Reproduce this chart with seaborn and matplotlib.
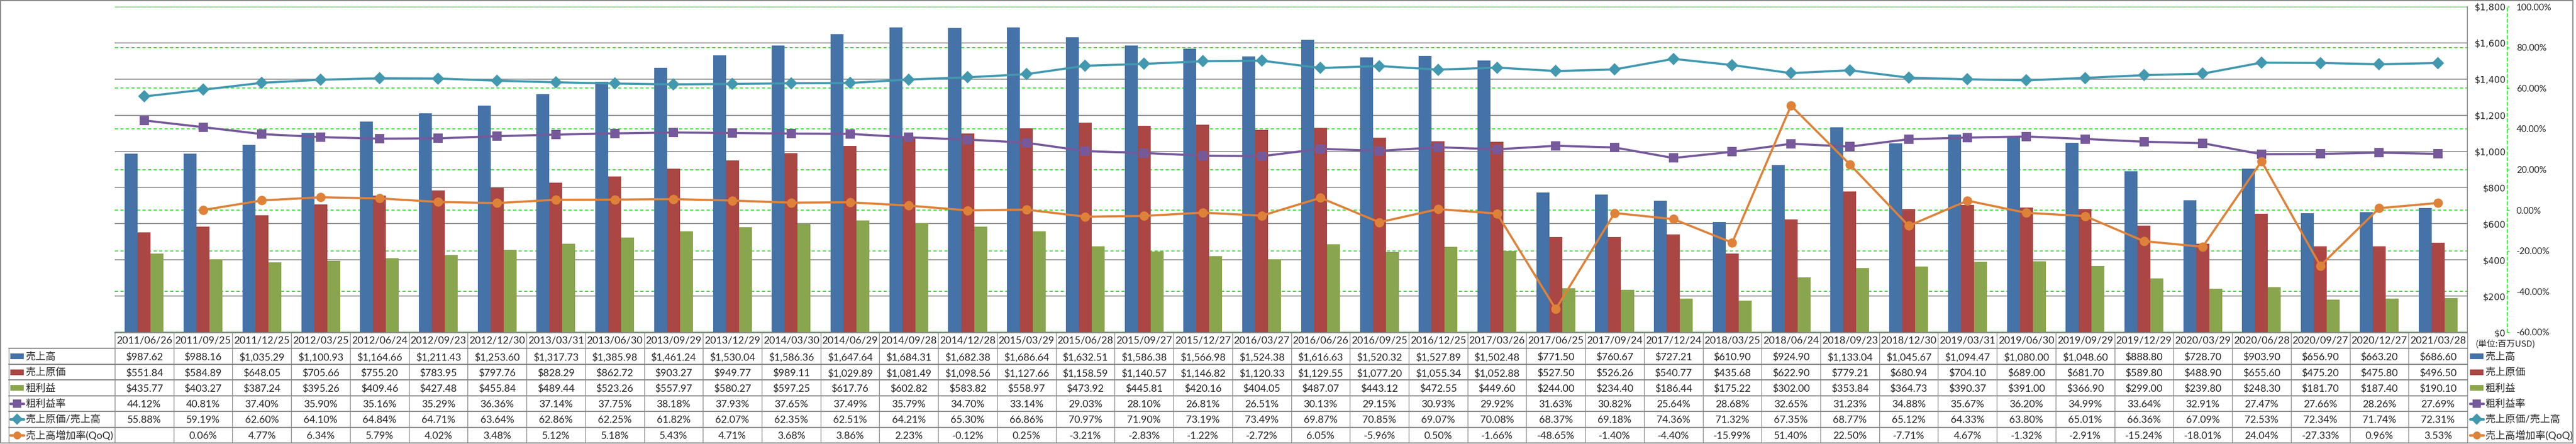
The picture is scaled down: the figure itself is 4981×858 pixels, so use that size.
"""Apple-style quarterly chart: sales / cost / gross profit bars, ratio lines, data table."""

import numpy as np
import pandas as pd
import matplotlib
matplotlib.use("Agg")
import matplotlib.pyplot as plt
import matplotlib.transforms as mtransforms
import seaborn as sns
from matplotlib.patches import Rectangle
from matplotlib.lines import Line2D

# ---- data ---------------------------------------------------------------
dates = ["2011/06/26", "2011/09/25", "2011/12/25", "2012/03/25", "2012/06/24",
         "2012/09/23", "2012/12/30", "2013/03/31", "2013/06/30", "2013/09/29",
         "2013/12/29", "2014/03/30", "2014/06/29", "2014/09/28", "2014/12/28",
         "2015/03/29", "2015/06/28", "2015/09/27", "2015/12/27", "2016/03/27",
         "2016/06/26", "2016/09/25", "2016/12/25", "2017/03/26", "2017/06/25",
         "2017/09/24", "2017/12/24", "2018/03/25", "2018/06/24", "2018/09/23",
         "2018/12/30", "2019/03/31", "2019/06/30", "2019/09/29", "2019/12/29",
         "2020/03/29", "2020/06/28", "2020/09/27", "2020/12/27", "2021/03/28"]

sales = [987.62, 988.16, 1035.29, 1100.93, 1164.66, 1211.43, 1253.60, 1317.73,
         1385.98, 1461.24, 1530.04, 1586.36, 1647.64, 1684.31, 1682.38, 1686.64,
         1632.51, 1586.38, 1566.98, 1524.38, 1616.63, 1520.32, 1527.89, 1502.48,
         771.50, 760.67, 727.21, 610.90, 924.90, 1133.04, 1045.67, 1094.47,
         1080.00, 1048.60, 888.80, 728.70, 903.90, 656.90, 663.20, 686.60]

cost = [551.84, 584.89, 648.05, 705.66, 755.20, 783.95, 797.76, 828.29,
        862.72, 903.27, 949.77, 989.11, 1029.89, 1081.49, 1098.56, 1127.66,
        1158.59, 1140.57, 1146.82, 1120.33, 1129.55, 1077.20, 1055.34, 1052.88,
        527.50, 526.26, 540.77, 435.68, 622.90, 779.21, 680.94, 704.10,
        689.00, 681.70, 589.80, 488.90, 655.60, 475.20, 475.80, 496.50]

gross = [435.77, 403.27, 387.24, 395.26, 409.46, 427.48, 455.84, 489.44,
         523.26, 557.97, 580.27, 597.25, 617.76, 602.82, 583.82, 558.97,
         473.92, 445.81, 420.16, 404.05, 487.07, 443.12, 472.55, 449.60,
         244.00, 234.40, 186.44, 175.22, 302.00, 353.84, 364.73, 390.37,
         391.00, 366.90, 299.00, 239.80, 248.30, 181.70, 187.40, 190.10]

margin = [44.12, 40.81, 37.40, 35.90, 35.16, 35.29, 36.36, 37.14, 37.75, 38.18,
          37.93, 37.65, 37.49, 35.79, 34.70, 33.14, 29.03, 28.10, 26.81, 26.51,
          30.13, 29.15, 30.93, 29.92, 31.63, 30.82, 25.64, 28.68, 32.65, 31.23,
          34.88, 35.67, 36.20, 34.99, 33.64, 32.91, 27.47, 27.66, 28.26, 27.69]

cost_ratio = [55.88, 59.19, 62.60, 64.10, 64.84, 64.71, 63.64, 62.86, 62.25, 61.82,
              62.07, 62.35, 62.51, 64.21, 65.30, 66.86, 70.97, 71.90, 73.19, 73.49,
              69.87, 70.85, 69.07, 70.08, 68.37, 69.18, 74.36, 71.32, 67.35, 68.77,
              65.12, 64.33, 63.80, 65.01, 66.36, 67.09, 72.53, 72.34, 71.74, 72.31]

qoq = [np.nan, 0.06, 4.77, 6.34, 5.79, 4.02, 3.48, 5.12, 5.18, 5.43,
       4.71, 3.68, 3.86, 2.23, -0.12, 0.25, -3.21, -2.83, -1.22, -2.72,
       6.05, -5.96, 0.50, -1.66, -48.65, -1.40, -4.40, -15.99, 51.40, 22.50,
       -7.71, 4.67, -1.32, -2.91, -15.24, -18.01, 24.04, -27.33, 0.96, 3.53]

bar_names = ["売上高", "売上原価", "粗利益"]
line_names = ["粗利益率", "売上原価/売上高", "売上高増加率(QoQ)"]
bar_colors = ["#4572A7", "#AA4643", "#89A54E"]
line_colors = ["#76599A", "#4198AF", "#DE823A"]
line_markers = ["s", "D", "o"]

money_ticks = list(range(0, 1801, 200))
pct_ticks = list(range(-60, 101, 20))

# ---- layout (pixels of the 4981x858 picture) ----------------------------
W, H, DPI = 4981, 858, 100
PLOT_L, PLOT_R, PLOT_T, PLOT_B = 222, 4771, 13, 642
TAB_B = 856
LABEL_L = 17
GRAY = "#868686"
GREEN = "#00E000"
FS = 14


def rect_px(x0, y0, x1, y1):
    return [x0 / W, 1 - y1 / H, (x1 - x0) / W, (y1 - y0) / H]


def pt(px_):
    return px_ * 72 / DPI


sns.set_theme(style="white")
plt.rcParams["font.family"] = ["Lato", "Noto Sans CJK JP", "DejaVu Sans"]

fig = plt.figure(figsize=(W / DPI, H / DPI), dpi=DPI)
fig.patch.set_facecolor("white")

ax = fig.add_axes(rect_px(PLOT_L, PLOT_T, PLOT_R, PLOT_B))
ax2 = ax.twinx()

# ---- bars -----------------------------------------------------------------
df = pd.DataFrame({"日付": dates, "売上高": sales, "売上原価": cost, "粗利益": gross})
long = df.melt(id_vars="日付", var_name="項目", value_name="金額")
sns.barplot(data=long, x="日付", y="金額", hue="項目", hue_order=bar_names,
            palette=bar_colors, width=0.66, saturation=1, linewidth=0,
            errorbar=None, legend=False, ax=ax, zorder=3)

ax.set_xlim(-0.5, len(dates) - 0.5)
ax.set_ylim(0, 1800)
ax.set_xticks([])
ax.set_xlabel("")
ax.set_ylabel("")
for s in ["left", "top", "bottom"]:
    ax.spines[s].set_visible(False)
ax.spines["right"].set_color(GRAY)
ax.spines["right"].set_linewidth(1.2)
for v in money_ticks:
    ax.axhline(v, color=GRAY, lw=1.3, zorder=1)

# green dashed grid of the % axis, drawn behind the bars
ax2.set_ylim(-60, 100)
blend = mtransforms.blended_transform_factory(ax.transAxes, ax2.transData)
for v in pct_ticks:
    ax.add_line(Line2D([0, 1], [v, v], transform=blend, color=GREEN,
                       lw=1.1, ls=(0, (4, 3)), zorder=2))

# ---- lines on secondary axis -----------------------------------------------
pos = np.arange(len(dates))
for vals, color, mk in zip([margin, cost_ratio, qoq], line_colors, line_markers):
    ms = 12 if mk == "D" else 13
    sns.lineplot(x=pos, y=vals, ax=ax2, color=color, marker=mk, markersize=ms,
                 markeredgewidth=0, linewidth=3, zorder=5)

ax2.set_xlim(-0.5, len(dates) - 0.5)
ax2.set_ylim(-60, 100)
ax2.set_yticks(pct_ticks)
ax2.set_yticklabels([f"{v:.2f}%" for v in pct_ticks])
for lbl, v in zip(ax2.get_yticklabels(), pct_ticks):
    lbl.set_color("red" if v < 0 else "black")
    lbl.set_fontfamily("DejaVu Sans")
ax2.tick_params(axis="y", direction="out", length=pt(4), width=1, color=GREEN,
                pad=pt(14), labelsize=12.5)
ax2.set_ylabel("")
for s in ["left", "top", "bottom"]:
    ax2.spines[s].set_visible(False)
ax2.spines["right"].set_position(("outward", pt(4848 - PLOT_R)))
ax2.spines["right"].set_color(GREEN)
ax2.spines["right"].set_linestyle((0, (4, 3)))
ax2.spines["right"].set_linewidth(1.1)

# money labels also sit on the right, just left of the % axis line
ax.yaxis.tick_right()
ax.set_yticks(money_ticks)
ax.set_yticklabels([f"${v:,}" for v in money_ticks])
ax.tick_params(axis="y", left=False, right=False, labelleft=False,
               labelright=True, length=0, pad=pt(4845 - PLOT_R), labelsize=12.5)
for lbl in ax.get_yticklabels():
    lbl.set_horizontalalignment("right")
    lbl.set_fontfamily("DejaVu Sans")

# ---- data table -------------------------------------------------------------
tab = fig.add_axes(rect_px(PLOT_L, PLOT_B + 1, PLOT_R, TAB_B))
tab.set_xlim(-0.5, len(dates) - 0.5)
tab.set_ylim(7, 0)
tab.axis("off")
col_w = (PLOT_R - PLOT_L) / len(dates)
lab_x0 = -0.5 - (PLOT_L - LABEL_L) / col_w


def px_to_col(x):
    return -0.5 + (x - PLOT_L) / col_w


# grid
for r in range(8):
    x0 = -0.5 if r == 0 else lab_x0
    tab.add_line(Line2D([x0, len(dates) - 0.5], [r, r], color=GRAY, lw=1.6,
                        clip_on=False))
for i in range(len(dates) + 1):
    tab.add_line(Line2D([i - 0.5, i - 0.5], [0, 7], color=GRAY, lw=1.0,
                        clip_on=False))
tab.add_line(Line2D([lab_x0, lab_x0], [1, 7], color=GRAY, lw=1.0, clip_on=False))

rows = [
    [f"${v:,.2f}" for v in sales],
    [f"${v:,.2f}" for v in cost],
    [f"${v:,.2f}" for v in gross],
    [f"{v:.2f}%" for v in margin],
    [f"{v:.2f}%" for v in cost_ratio],
    ["" if np.isnan(v) else f"{v:.2f}%" for v in qoq],
]

for i, d in enumerate(dates):
    tab.text(i, 0.5, d, ha="center", va="center", fontsize=FS)
for r, cells in enumerate(rows, start=1):
    for i, txt in enumerate(cells):
        tab.text(i, r + 0.55, txt, ha="center", va="center", fontsize=FS)


def draw_key(x0_px, r, kind):
    """legend key at pixel x0, table row r (1..6)"""
    a, b = px_to_col(x0_px), px_to_col(x0_px + 26)
    yc = r + 0.5
    if kind < 3:
        tab.add_patch(Rectangle((a, yc - 0.18), b - a, 0.36,
                                color=bar_colors[kind], clip_on=False, lw=0))
    else:
        k = kind - 3
        tab.add_line(Line2D([a, b], [yc, yc], color=line_colors[k], lw=3.5,
                            clip_on=False))
        tab.add_line(Line2D([(a + b) / 2], [yc], color=line_colors[k],
                            marker=line_markers[k], markersize=11,
                            markeredgewidth=0, clip_on=False))


names = bar_names + line_names
for r, name in enumerate(names, start=1):
    draw_key(LABEL_L + 3, r, r - 1)
    tab.text(px_to_col(49), r + 0.5, name, ha="left", va="center",
             fontsize=FS, clip_on=False)
    draw_key(PLOT_R + 5, r, r - 1)
    tab.text(px_to_col(PLOT_R + 34), r + 0.5, name, ha="left", va="center",
             fontsize=FS, clip_on=False)

fig.text(4787 / W, 1 - 665 / H, "(単位:百万USD)", ha="left", va="center",
         fontsize=12, family=["Noto Sans CJK JP", "DejaVu Sans"])

# outer frame
fig.add_artist(Rectangle((1 / W, 2 / H), (4974 / W), (H - 3) / H,
                         transform=fig.transFigure, fill=False,
                         edgecolor=GRAY, lw=1.5))

fig.savefig("out.png", dpi=DPI, facecolor="white")
